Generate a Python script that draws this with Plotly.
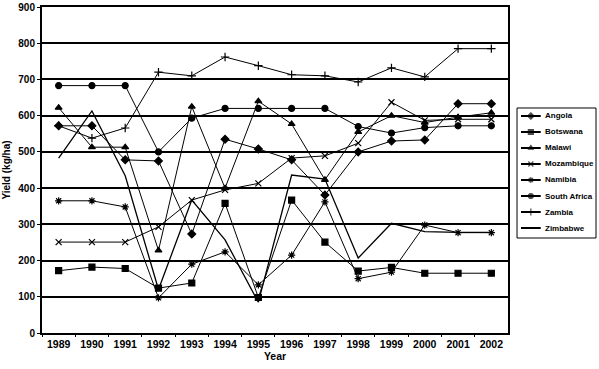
import plotly.graph_objects as go

years = [str(y) for y in range(1989, 2003)]

angola = [572, 572, 478, 475, 273, 535, 508, 478, 381, 500, 530, 533, 633, 633]
botswana = [172, 182, 178, 124, 138, 358, 98, 367, 251, 171, 181, 165, 165, 165]
malawi = [622, 513, 513, 228, 625, 400, 640, 577, 423, 555, 600, 581, 596, 608]
mozambique = [251, 251, 251, 293, 367, 395, 413, 483, 489, 524, 637, 587, 590, 590]
namibia = [365, 365, 348, 97, 190, 224, 133, 215, 362, 150, 168, 298, 277, 277]
south_africa = [683, 683, 683, 500, 593, 620, 620, 620, 620, 570, 552, 567, 572, 572]
zambia = [572, 538, 566, 720, 710, 762, 738, 713, 710, 693, 732, 707, 785, 785]
zimbabwe = [483, 613, 434, 120, 367, 257, 85, 436, 425, 207, 303, 280, 278, 278]

series = [
    ("Angola", angola, "diamond"),
    ("Botswana", botswana, "square"),
    ("Malawi", malawi, "triangle-up"),
    ("Mozambique", mozambique, "x-thin-open"),
    ("Namibia", namibia, "asterisk-open"),
    ("South Africa", south_africa, "circle"),
    ("Zambia", zambia, "cross-thin-open"),
    ("Zimbabwe", zimbabwe, None),
]

FONT = "Liberation Sans, Arial, sans-serif"

fig = go.Figure()
for name, vals, sym in series:
    if sym is None:
        fig.add_trace(go.Scatter(x=years, y=vals, name=name, mode="lines",
                                 line=dict(color="black", width=1.3), showlegend=False))
    else:
        fig.add_trace(go.Scatter(x=years, y=vals, name=name, mode="lines+markers",
                                 line=dict(color="black", width=1),
                                 marker=dict(symbol=sym, size=6, color="black",
                                             line=dict(color="black", width=1.2)),
                                 showlegend=False))

# Legend drawn in its own small axes (legend-local units: 80 x 130)
for i, (name, vals, sym) in enumerate(series):
    row = 8 + 16 * i
    if sym is None:
        fig.add_trace(go.Scatter(x=[4, 24], y=[row, row], mode="lines",
                                 line=dict(color="black", width=2),
                                 xaxis="x2", yaxis="y2", showlegend=False, hoverinfo="skip"))
    else:
        fig.add_trace(go.Scatter(x=[4, 14, 24], y=[row, row, row], mode="lines+markers",
                                 line=dict(color="black", width=2),
                                 marker=dict(symbol=sym, size=[0, 5, 0], color="black",
                                             line=dict(color="black", width=1.2)),
                                 xaxis="x2", yaxis="y2", showlegend=False, hoverinfo="skip"))
    fig.add_annotation(x=26, y=row, xref="x2", yref="y2", text=f"<b>{name}</b>",
                       showarrow=False, xanchor="left", yanchor="middle",
                       font=dict(size=8, family=FONT, color="black"))

fig.update_layout(
    width=599, height=369,
    margin=dict(l=42, r=2, t=7, b=36, autoexpand=False),
    paper_bgcolor="white", plot_bgcolor="white",
    font=dict(family=FONT, color="black", size=10),
    showlegend=False,
    xaxis2=dict(domain=[0.8559, 0.9982], range=[0, 80], visible=False, anchor="y2"),
    yaxis2=dict(domain=[0.2914, 0.6902], range=[130, 0], visible=False, anchor="x2"),
    shapes=[dict(type="rect", xref="x2 domain", yref="y2 domain", x0=0, x1=1, y0=0, y1=1,
                 line=dict(color="black", width=1))],
)
fig.layout.xaxis.update(domain=[0, 0.8396], type="category", range=[-0.5, 13.5], showgrid=False,
                        showline=True, linecolor="black", linewidth=2, mirror=True,
                        ticks="outside", tickson="boundaries", ticklen=2, tickcolor="black",
                        tickfont=dict(size=10.5, family=FONT),
                        title=dict(text="<b>Year</b>", standoff=0, font=dict(size=10.5)),
                        tickprefix="<b>", ticksuffix="</b>")
fig.layout.yaxis.update(range=[0, 900], dtick=100, showgrid=True, gridcolor="black", gridwidth=2,
                        showline=True, linecolor="black", linewidth=2, mirror=True,
                        ticks="outside", ticklen=3, tickcolor="black", zeroline=False,
                        tickprefix="<b>", ticksuffix="</b>",
                        title=dict(text="<b>Yield (kg/ha)</b>", standoff=6, font=dict(size=10)))

fig.write_html("out.html", config={"displayModeBar": False},
               post_script="document.body.style.margin='0px';")
